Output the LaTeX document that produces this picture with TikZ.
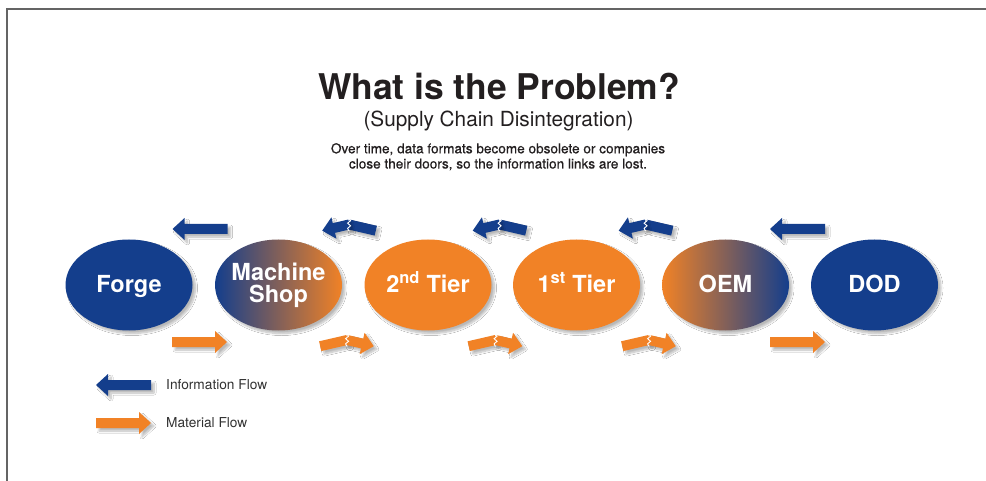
\documentclass[tikz,border=0pt]{standalone}
\usepackage{fontspec}
\setmainfont{TeX Gyre Heros}
\newfontfamily\medfont{TeX Gyre Heros}[FakeBold=0.6]
\usetikzlibrary{shapes.geometric,shadows.blur}
\definecolor{navy}{RGB}{20,62,140}
\definecolor{orng}{RGB}{241,130,38}
\definecolor{ink}{RGB}{35,31,32}
\definecolor{legendink}{RGB}{50,50,50}
\definecolor{framegray}{RGB}{100,100,100}
\tikzset{
  shd/.style={blur shadow={shadow xshift=3pt,shadow yshift=-3pt,shadow blur radius=2pt,shadow blur steps=8,shadow opacity=28}},
  oval/.style={ellipse,minimum width=127pt,minimum height=91pt,inner sep=0pt,shd},
  ovaltext/.style={text=white,font=\fontsize{23.5}{22}\selectfont\bfseries,anchor=base,inner sep=0pt},
  legendtext/.style={text=legendink,font=\fontsize{13.7}{16}\selectfont,anchor=base west,inner sep=0pt},
  desctext/.style={text=ink,font=\medfont\fontsize{13.6}{15.5}\selectfont,anchor=base,inner sep=0pt},
  zig/.style={white,line width=0.9pt,line join=miter},
  pics/infostraight/.style={code={
    \fill[shd] (27.5,5) -- (-15.5,5) -- (-15.5,11) -- (-27.5,0) -- (-15.5,-11) -- (-15.5,-5) -- (27.5,-5) -- cycle;}},
  pics/matstraight/.style={code={
    \fill[shd] (-27.5,5) -- (15.5,5) -- (15.5,11) -- (27.5,0) -- (15.5,-11) -- (15.5,-5) -- (-27.5,-5) -- cycle;}},
  pics/infobroken/.style={code={
    \fill[shd,rotate=-13] (-0.5,5) -- (27.5,5) -- (27.5,-5) -- (-0.5,-5) -- cycle;
    \fill[shd,rotate=13] (0.5,5) -- (-15.5,5) -- (-15.5,11) -- (-27.5,0) -- (-15.5,-11) -- (-15.5,-5) -- (0.5,-5) -- cycle;
    \draw[zig] (0,6.5) -- (1.6,3.8) -- (-1.4,1.3) -- (1.6,-1.3) -- (-1.4,-3.8) -- (0,-6.5);}},
  pics/matbroken/.style={code={
    \fill[shd,rotate=13] (-27.5,5) -- (0.5,5) -- (0.5,-5) -- (-27.5,-5) -- cycle;
    \fill[shd,rotate=-13] (-0.5,5) -- (15.5,5) -- (15.5,11) -- (27.5,0) -- (15.5,-11) -- (15.5,-5) -- (-0.5,-5) -- cycle;
    \draw[zig] (0,6.5) -- (1.6,3.8) -- (-1.4,1.3) -- (1.6,-1.3) -- (-1.4,-3.8) -- (0,-6.5);}},
}
\begin{document}
\begin{tikzpicture}[x=1pt,y=1pt]
\useasboundingbox (0,0) rectangle (986,-481);
\fill[white] (0,0) rectangle (986,-481);
% frame
\draw[framegray,line width=1.4pt] (7,-481) -- (7,-9) -- (986,-9);

% headings
\node[text=ink,font=\fontsize{35.4}{40}\selectfont\bfseries,anchor=base,inner sep=0pt] (title) at (499,-99.5) {What is the Problem?};
\node[text=ink,font=\fontsize{20.8}{24}\selectfont,anchor=base,inner sep=0pt] (subtitle) at (498.5,-126.5) {(Supply Chain Disintegration)};
\node[desctext] (desc1) at (498,-153.3) {Over time, data formats become obsolete or companies};
\node[desctext] (desc2) at (498,-168.5) {close their doors, so the information links are lost.};

% ovals
\node[oval,fill=navy] (forge) at (129,-285) {};
\node[oval,left color=navy,right color=orng] (shop) at (278.5,-285) {};
\node[oval,fill=orng] (tier2) at (428,-285) {};
\node[oval,fill=orng] (tier1) at (576.5,-285) {};
\node[oval,left color=orng,right color=navy] (oem) at (725.5,-285) {};
\node[oval,fill=navy] (dod) at (874.5,-285) {};

\node[ovaltext] (forgeT) at (129,-293) {Forge};
\node[ovaltext] (shopT1) at (278.5,-280.5) {Machine};
\node[ovaltext] (shopT2) at (278.5,-302) {Shop};
\node[ovaltext] (tier2T) at (428,-293) {2\textsuperscript{nd} Tier};
\node[ovaltext] (tier1T) at (576.5,-293) {1\textsuperscript{st} Tier};
\node[ovaltext] (oemT) at (725.5,-293) {OEM};
\node[ovaltext] (dodT) at (874.5,-293) {DOD};

% information flow (top)
\pic[color=navy] at (200,-229) {infostraight};
\pic[color=navy] at (349,-224.5) {infobroken};
\pic[color=navy] at (499.5,-224.5) {infobroken};
\pic[color=navy] at (645.5,-224.5) {infobroken};
\pic[color=navy] at (797.5,-229) {infostraight};

% material flow (bottom)
\pic[color=orng] at (199.5,-342) {matstraight};
\pic[color=orng] at (347,-340) {matbroken};
\pic[color=orng] at (495.5,-340) {matbroken};
\pic[color=orng] at (649,-340) {matbroken};
\pic[color=orng] at (797.5,-342) {matstraight};

% legend
\pic[color=navy] at (123.5,-385) {infostraight};
\pic[color=orng] at (123.5,-423) {matstraight};
\node[legendtext] (legInfo) at (166,-389.5) {Information Flow};
\node[legendtext] (legMat) at (166,-427.7) {Material Flow};
\end{tikzpicture}
\end{document}
